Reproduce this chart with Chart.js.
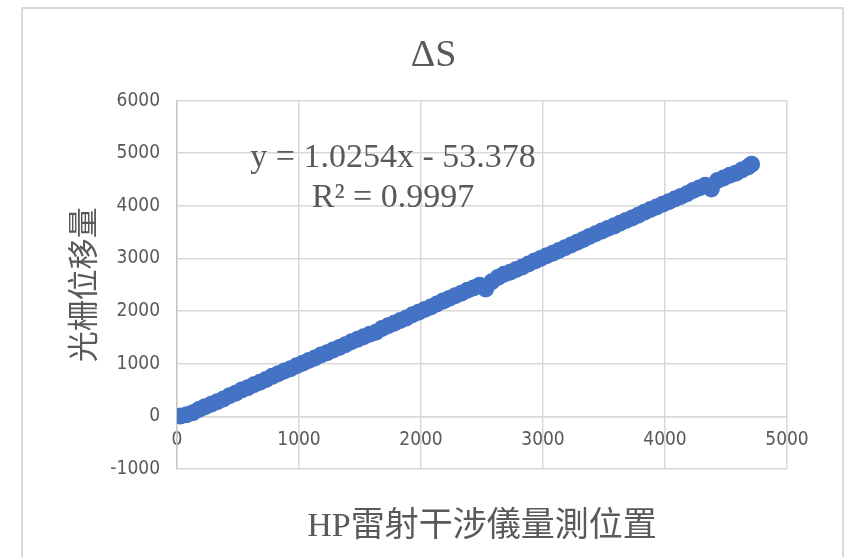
<!DOCTYPE html>
<html>
<head>
<meta charset="utf-8">
<script src="https://cdn.jsdelivr.net/npm/chart.js@4/dist/chart.umd.min.js"></script>
<style>
    html, body { margin: 0; padding: 0; background: #fff; }
    #wrap { position: relative; width: 845px; height: 557px; }
    #frame {
        position: absolute; left: 21px; top: 7px; width: 819px; height: 560px;
        border: 2px solid #d9d9d9; pointer-events: none;
    }
    canvas { position: absolute; left: 0; top: 0; }
</style>
</head>
<body>
<div id="wrap">
    <div id="frame"></div>
    <canvas id="deltaChart" width="845" height="557"></canvas>
</div>
<script>
// HP laser interferometer position (x) vs grating displacement (y)
const hpPosition = [
    30, 80, 130, 180, 230, 280, 330, 380, 430, 480,
    530, 580, 630, 680, 730, 780, 830, 880, 930, 980,
    1030, 1080, 1130, 1180, 1230, 1280, 1330, 1380, 1430, 1480,
    1530, 1580, 1630, 1680, 1730, 1780, 1830, 1880, 1930, 1980,
    2030, 2080, 2130, 2180, 2230, 2280, 2330, 2380, 2430, 2480,
    2530, 2580, 2630, 2680, 2730, 2780, 2830, 2880, 2930, 2980,
    3030, 3080, 3130, 3180, 3230, 3280, 3330, 3380, 3430, 3480,
    3530, 3580, 3630, 3680, 3730, 3780, 3830, 3880, 3930, 3980,
    4030, 4080, 4130, 4180, 4230, 4280, 4330, 4380, 4430, 4480,
    4530, 4580, 4630, 4680, 4710
];
const gratingShift = [
    5, 30, 70, 130, 185, 230, 280, 330, 390, 440,
    500, 545, 600, 650, 700, 760, 810, 860, 905, 960,
    1010, 1060, 1110, 1165, 1210, 1260, 1310, 1360, 1420, 1465,
    1515, 1560, 1600, 1670, 1720, 1770, 1820, 1870, 1930, 1980,
    2030, 2080, 2135, 2190, 2240, 2290, 2340, 2395, 2440, 2490,
    2420, 2560, 2640, 2700, 2740, 2790, 2840, 2895, 2950, 3000,
    3050, 3100, 3150, 3205, 3255, 3310, 3360, 3420, 3470, 3520,
    3570, 3615, 3670, 3720, 3770, 3820, 3880, 3930, 3980, 4030,
    4080, 4130, 4180, 4230, 4290, 4340, 4390, 4320, 4480, 4530,
    4580, 4620, 4680, 4740, 4790
];

const chartTitle = 'ΔS';
const xTitle = 'HP雷射干涉儀量測位置';
const yTitle = '光柵位移量';
const trendLines = ['y = 1.0254x - 53.378', 'R² = 0.9997'];

const xMin = 0, xMax = 5000, xStep = 1000;
const yMin = -1000, yMax = 6000, yStep = 1000;

const textGray = '#595959';
const gridGray = '#d9d9d9';
const tickFont = { family: "'Liberation Sans Narrow', 'DejaVu Sans Condensed', 'Open Sans', sans-serif", size: 19 };
const plainNumber = (v) => String(v); // Excel shows no thousands separator

// trendline equation label, like Excel puts it
const trendLabel = {
    id: 'trendLabel',
    afterDraw(chart) {
        const { ctx, chartArea } = chart;
        ctx.save();
        ctx.fillStyle = textGray;
        ctx.font = "34px 'Liberation Serif', 'Times New Roman', serif";
        ctx.textAlign = 'center';
        ctx.textBaseline = 'middle';
        const cx = chartArea.left + 216;
        trendLines.forEach((t, i) => {
            ctx.fillText(t, cx, chartArea.top + 57 + i * 40);
        });
        ctx.restore();
    }
};

const ctx = document.getElementById('deltaChart').getContext('2d');
new Chart(ctx, {
    type: 'scatter',
    data: {
        datasets: [{
            data: hpPosition.map((x, i) => ({ x: x, y: gratingShift[i] })),
            backgroundColor: '#4472c4',
            borderWidth: 0,
            pointRadius: 8.5,
            xAxisID: 'x',
            yAxisID: 'y'
        }]
    },
    options: {
        responsive: false,
        animation: false,
        layout: {
            padding: { left: 22, right: 0, top: 0, bottom: 0 }
        },
        plugins: {
            legend: { display: false },
            tooltip: { enabled: false },
            title: {
                display: true,
                text: chartTitle,
                color: textGray,
                font: { family: "'Liberation Serif', 'Times New Roman', serif", size: 38, weight: 'normal' },
                padding: { top: 33, bottom: 22 }
            }
        },
        scales: {
            x: {
                type: 'linear',
                position: { y: 0 },
                min: xMin,
                max: xMax,
                grid: { color: gridGray, lineWidth: 1.5, drawTicks: false },
                border: { color: gridGray, width: 1.5 },
                ticks: {
                    stepSize: xStep,
                    color: textGray,
                    font: tickFont,
                    padding: 12,
                    maxRotation: 0,
                    callback: plainNumber
                }
            },
            xTitleAxis: {
                type: 'linear',
                position: 'bottom',
                min: xMin,
                max: xMax,
                grid: { display: false },
                border: { display: false },
                ticks: { display: false },
                title: {
                    display: true,
                    text: xTitle,
                    color: textGray,
                    font: { family: "'Liberation Serif', 'Noto Sans CJK TC', serif", size: 34 },
                    padding: { top: 0, bottom: 10 }
                },
                afterFit: (scale) => { scale.height = 88; }
            },
            y: {
                type: 'linear',
                min: yMin,
                max: yMax,
                grid: { color: gridGray, lineWidth: 1.5, drawTicks: false },
                border: { color: '#c8c8c8', width: 1.5 },
                ticks: {
                    stepSize: yStep,
                    color: textGray,
                    font: tickFont,
                    padding: 17,
                    callback: plainNumber
                },
                title: {
                    display: true,
                    text: yTitle,
                    color: textGray,
                    font: { family: "'Noto Sans CJK TC', sans-serif", size: 31 },
                    padding: { top: 42, bottom: 0 }
                },
                afterFit: (scale) => { scale.width = 155; }
            },
            // empty right-hand strip so the title centres on the whole frame
            ySpacer: {
                type: 'linear',
                position: 'right',
                min: yMin,
                max: yMax,
                grid: { display: false },
                border: { display: false },
                ticks: { display: false },
                afterFit: (scale) => { scale.width = 58; }
            }
        }
    },
    plugins: [trendLabel]
});
</script>
</body>
</html>
